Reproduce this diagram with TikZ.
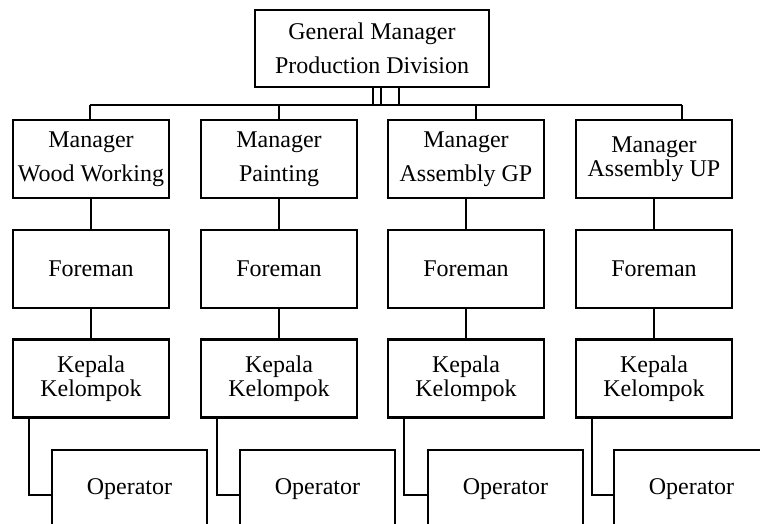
\documentclass[tikz,border=0pt]{standalone}
\usepackage{fontspec}
\setmainfont{Liberation Serif}
\begin{document}
\begin{tikzpicture}[x=1pt,y=-1pt,
  box/.style={draw, line width=2.4pt, fill=white, minimum width=156pt, minimum height=78pt,
    inner sep=0pt, align=center, font=\fontsize{24}{34}\selectfont},
  tight/.style={font=\fontsize{24}{24}\selectfont},
  link/.style={line width=2.4pt}]
\useasboundingbox (0,0) rectangle (760,524);
\clip (0,0) rectangle (760,524);
\fill[white] (0,0) rectangle (760,524);

% top of the hierarchy
\node[box, minimum width=234pt, minimum height=77pt] (gm) at (372,48.5) {General Manager\\Production Division};

% managers
\node[box] (m1) at (91,159)  {Manager\\Wood Working};
\node[box] (m2) at (279,159) {Manager\\Painting};
\node[box] (m3) at (466,159) {Manager\\Assembly GP};
\node[box, tight] (m4) at (654,159) {Manager\\Assembly UP};

% foremen
\node[box] (f1) at (91,269)  {Foreman};
\node[box] (f2) at (279,269) {Foreman};
\node[box] (f3) at (466,269) {Foreman};
\node[box] (f4) at (654,269) {Foreman};

% group leaders
\node[box, tight] (k1) at (91,378.5)  {Kepala\\Kelompok};
\node[box, tight] (k2) at (279,378.5) {Kepala\\Kelompok};
\node[box, tight] (k3) at (466,378.5) {Kepala\\Kelompok};
\node[box, tight] (k4) at (654,378.5) {Kepala\\Kelompok};

% operators
\node[box, minimum width=155pt] (o1) at (129.5,489) {Operator};
\node[box, minimum width=155pt] (o2) at (317.5,489) {Operator};
\node[box, minimum width=155pt] (o3) at (505.5,489) {Operator};
\node[box, minimum width=155pt] (o4) at (691.5,489) {Operator};

% bus under the general manager
\coordinate (busL) at (90,105);
\coordinate (busR) at (682,105);
\coordinate (g1) at (373,105);
\coordinate (g2) at (381,105);
\coordinate (g3) at (399,105);
\coordinate (t2) at (279,105);
\coordinate (t3) at (476,105);
\draw[link] (busL) -- (busR);
\draw[link] (g1 |- gm.south) -- (g1);
\draw[link] (g2 |- gm.south) -- (g2);
\draw[link] (g3 |- gm.south) -- (g3);
\draw[link] (busL) -- (busL |- m1.north);
\draw[link] (t2) -- (t2 |- m2.north);
\draw[link] (t3) -- (t3 |- m3.north);
\draw[link] (busR) -- (busR |- m4.north);

% vertical chains
\foreach \i in {1,2,3,4} {
  \draw[link] (m\i.south) -- (f\i.north);
  \draw[link] (f\i.south) -- (k\i.north);
}

% elbows from group leaders to operators
\coordinate (c1) at (29,495);
\coordinate (c2) at (217,495);
\coordinate (c3) at (404,495);
\coordinate (c4) at (592,495);
\foreach \i in {1,2,3,4} {
  \draw[link] (c\i |- k\i.south) -- (c\i) -- (o\i.west |- c\i);
}
\end{tikzpicture}
\end{document}
